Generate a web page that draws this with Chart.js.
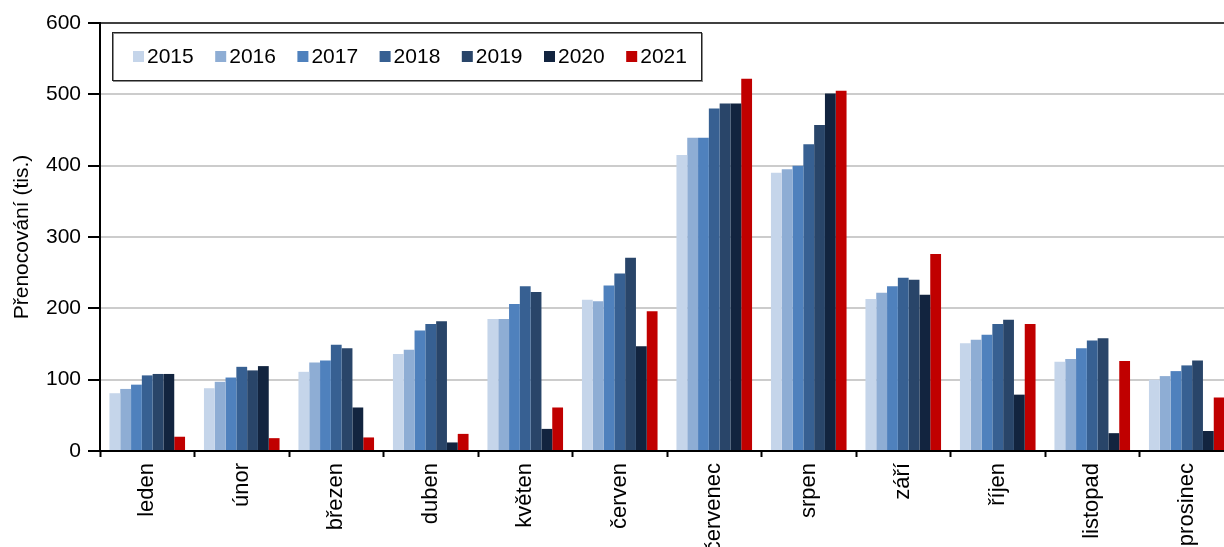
<!DOCTYPE html>
<html>
<head>
<meta charset="utf-8">
<script src="https://cdn.jsdelivr.net/npm/chart.js@4"></script>
<style>
    html, body { margin: 0; padding: 0; background: #fff; overflow: hidden; }
    #wrap { width: 1224px; height: 547px; overflow: hidden; }
</style>
</head>
<body>
<div id="wrap"><canvas id="myChart" width="1240" height="547"></canvas></div>
<script>
var mesice = ['leden', 'únor', 'březen', 'duben', 'květen', 'červen', 'červenec', 'srpen', 'září', 'říjen', 'listopad', 'prosinec'];
var roky = ['2015', '2016', '2017', '2018', '2019', '2020', '2021'];

var r2015 = [81, 88, 111, 136, 185, 212, 415, 390, 213, 151, 125, 100];
var r2016 = [87, 97, 124, 142, 185, 210, 439, 395, 222, 156, 129, 105];
var r2017 = [93, 103, 127, 169, 206, 232, 439, 400, 231, 163, 144, 112];
var r2018 = [106, 118, 149, 178, 231, 249, 480, 430, 243, 178, 155, 120];
var r2019 = [108, 113, 144, 182, 223, 271, 487, 457, 240, 184, 158, 127];
var r2020 = [108, 119, 61, 12, 31, 147, 487, 501, 219, 79, 25, 28];
var r2021 = [20, 18, 19, 24, 61, 196, 522, 505, 276, 178, 126, 75];

var hodnoty = [r2015, r2016, r2017, r2018, r2019, r2020, r2021];
var barvy = ['#c5d5ea', '#8eadd4', '#4f81bd', '#376092', '#294569', '#12243f', '#c00000'];

var font = 'Liberation Sans, Arial, sans-serif';

// legenda uvnitř grafu (rámeček nahoře vlevo)
var legendaUvnitr = {
    id: 'legendaUvnitr',
    afterDraw: function(chart) {
        var ctx = chart.ctx;
        ctx.save();
        ctx.fillStyle = '#fff';
        ctx.fillRect(112, 32, 589, 48);
        ctx.strokeStyle = '#8c8c8c';
        ctx.lineWidth = 1;
        ctx.strokeRect(113.5, 33.5, 589, 48);
        ctx.strokeStyle = '#222';
        ctx.strokeRect(112.5, 32.5, 589, 48);
        ctx.font = '21px ' + font;
        ctx.textBaseline = 'middle';
        for (var i = 0; i < chart.data.datasets.length; i++) {
            var x = 133 + i * 82.2;
            ctx.fillStyle = chart.data.datasets[i].backgroundColor;
            ctx.fillRect(x, 51, 11, 11);
            ctx.fillStyle = '#000';
            ctx.fillText(chart.data.datasets[i].label, x + 14, 57);
        }
        ctx.restore();
    }
};

function graf() {
    var datasets = [];
    for (var i = 0; i < roky.length; i++) {
        datasets.push({
            label: roky[i],
            data: hodnoty[i],
            backgroundColor: barvy[i],
            borderWidth: 0,
            categoryPercentage: 0.8,
            barPercentage: 1.0
        });
    }

    var ctx = document.getElementById('myChart').getContext('2d');
    var myChart = new Chart(ctx, {
        type: 'bar',
        data: {
            labels: mesice,
            datasets: datasets
        },
        options: {
            responsive: false,
            animation: false,
            layout: { padding: { top: 23, right: 6, left: 0, bottom: 0 } },
            plugins: {
                legend: { display: false },
                tooltip: { enabled: false }
            },
            scales: {
                x: {
                    grid: {
                        offset: true,
                        drawOnChartArea: false,
                        drawTicks: true,
                        tickLength: 6,
                        tickWidth: 2,
                        tickColor: '#000'
                    },
                    border: { color: '#000', width: 2 },
                    ticks: {
                        color: '#000',
                        font: { family: font, size: 22 },
                        minRotation: 90,
                        maxRotation: 90,
                        padding: 6,
                        autoSkip: false
                    },
                    afterFit: function(scale) { scale.height = 96; }
                },
                y: {
                    min: 0,
                    max: 600,
                    ticks: {
                        stepSize: 100,
                        color: '#000',
                        font: { family: font, size: 21 },
                        padding: 7
                    },
                    grid: {
                        color: function(c) { return c.tick && c.tick.value === 600 ? '#404040' : '#cccccc'; },
                        lineWidth: 2,
                        tickLength: 12,
                        tickColor: '#000',
                        tickWidth: 2
                    },
                    border: { color: '#000', width: 2 },
                    title: {
                        display: true,
                        text: 'Přenocování (tis.)',
                        color: '#000',
                        font: { family: font, size: 21 },
                        padding: { top: 10, bottom: 2 }
                    },
                    afterFit: function(scale) { scale.width = 100; }
                }
            }
        },
        plugins: [legendaUvnitr]
    });
}

graf();
</script>
</body>
</html>
